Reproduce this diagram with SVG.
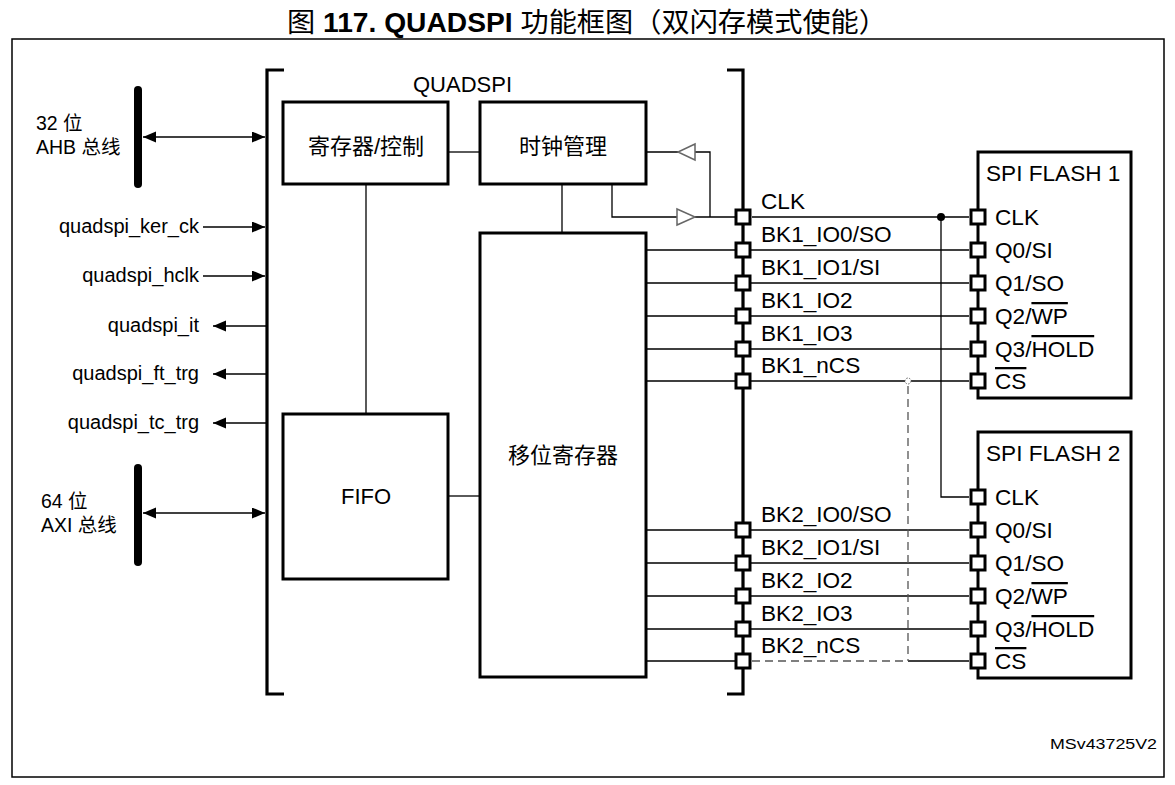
<svg xmlns="http://www.w3.org/2000/svg" width="1175" height="785" viewBox="0 0 1175 785">
<style>
text{font-family:"Liberation Sans","Noto Sans CJK SC",Arial,sans-serif;fill:#000}
.t20{font-size:20px}
.t22{font-size:22px}
.t23{font-size:22.6px}
.box{fill:#fff;stroke:#000;stroke-width:3}
.ln{stroke:#000;stroke-width:1.3;fill:none}
.brk{stroke:#000;stroke-width:3.2;fill:none}
.pin{fill:#fff;stroke:#000;stroke-width:3}
.buf{fill:#fff;stroke:#666;stroke-width:1.5}
.bus{stroke:#000;stroke-width:8;stroke-linecap:round}
.dash{stroke:#555;stroke-width:1.3;stroke-dasharray:8 5;fill:none}
.ov{text-decoration:overline}
</style>
<defs>
<marker id="ah" markerUnits="userSpaceOnUse" markerWidth="14" markerHeight="12" refX="13" refY="5.5" orient="auto-start-reverse">
<path d="M0,0 L13,5.5 L0,11 Z" fill="#000"/>
</marker>
</defs>
<rect x="0" y="0" width="1175" height="785" fill="#fff"/>
<text x="587" y="32" text-anchor="middle" style="font-size:27px" textLength="600" lengthAdjust="spacingAndGlyphs">图 <tspan font-weight="bold">117. QUADSPI</tspan> 功能框图（双闪存模式使能）</text>
<rect x="12" y="39" width="1152" height="738" fill="none" stroke="#000" stroke-width="1.5"/>

<g id="buses">
<line class="bus" x1="138" y1="90" x2="138" y2="184"/>
<text x="36" y="130" style="font-size:19.5px">32 位</text>
<text x="36" y="154" style="font-size:19.5px">AHB 总线</text>
<line class="bus" x1="138" y1="468" x2="138" y2="562"/>
<text x="41" y="508" style="font-size:19.5px">64 位</text>
<text x="41" y="532" style="font-size:19.5px">AXI 总线</text>
</g>

<g id="signals">
<text class="t20" x="199" y="233" text-anchor="end">quadspi_ker_ck</text>
<text class="t20" x="199" y="282" text-anchor="end">quadspi_hclk</text>
<text class="t20" x="199" y="332" text-anchor="end">quadspi_it</text>
<text class="t20" x="199" y="380" text-anchor="end">quadspi_ft_trg</text>
<text class="t20" x="199" y="429" text-anchor="end">quadspi_tc_trg</text>
</g>

<g id="quadspi">
<path class="brk" d="M284,70 H267 V694 H284"/>
<path class="brk" d="M727,70 H743 V694 H727"/>
<text class="t22" x="413" y="92">QUADSPI</text>
</g>

<g id="regctrl">
<rect class="box" x="283" y="102" width="165" height="82"/>
<text class="t22" x="366" y="154" text-anchor="middle">寄存器/控制</text>
</g>
<g id="clkmgmt">
<rect class="box" x="480" y="102" width="166" height="82"/>
<text class="t22" x="563" y="154" text-anchor="middle">时钟管理</text>
</g>
<g id="fifo">
<rect class="box" x="283" y="414" width="165" height="165"/>
<text class="t22" x="366" y="504" text-anchor="middle">FIFO</text>
</g>
<g id="shiftreg">
<rect class="box" x="480" y="233" width="166" height="444"/>
<text class="t22" x="563" y="463" text-anchor="middle">移位寄存器</text>
</g>

<g id="connectors">
<line class="ln" x1="143" y1="137" x2="265" y2="137" marker-start="url(#ah)" marker-end="url(#ah)"/>
<line class="ln" x1="143" y1="513" x2="265" y2="513" marker-start="url(#ah)" marker-end="url(#ah)"/>
<line class="ln" x1="203" y1="227" x2="265" y2="227" marker-end="url(#ah)"/>
<line class="ln" x1="203" y1="276" x2="265" y2="276" marker-end="url(#ah)"/>
<line class="ln" x1="267" y1="326" x2="213" y2="326" marker-end="url(#ah)"/>
<line class="ln" x1="267" y1="374" x2="213" y2="374" marker-end="url(#ah)"/>
<line class="ln" x1="267" y1="423" x2="213" y2="423" marker-end="url(#ah)"/>
<line class="ln" x1="448" y1="152" x2="480" y2="152"/>
<line class="ln" x1="366" y1="184" x2="366" y2="414"/>
<line class="ln" x1="562" y1="184" x2="562" y2="233"/>
<line class="ln" x1="448" y1="496" x2="480" y2="496"/>
<path class="ln" d="M612,184 V217 H677 M695,217 H736"/>
<path class="ln" d="M710,217 V152 H695 M678,152 H646"/>
<path class="buf" d="M677,209 L695,217 L677,225 Z"/>
<path class="buf" d="M695,144 L678,152 L695,160 Z"/>
<path class="ln" d="M646,250 H969 M646,283 H969 M646,316 H969 M646,349 H969 M646,381 H969"/>
<path class="ln" d="M646,530 H969 M646,563 H969 M646,596 H969 M646,629 H969 M646,661 H736 M908,661 H969"/>
<path class="ln" d="M752,217 H969 M941,217 V497 H969"/>
<circle cx="941" cy="217" r="4" fill="#000"/>
<path class="dash" d="M908,386 V661 M752,661 H908"/>
<circle cx="908" cy="381" r="3" fill="#fff" stroke="#666" stroke-width="1" stroke-dasharray="1.5 1.5"/>
</g>

<g id="pins">
<rect class="pin" x="736" y="210" width="14" height="14"/>
<rect class="pin" x="736" y="243" width="14" height="14"/>
<rect class="pin" x="736" y="276" width="14" height="14"/>
<rect class="pin" x="736" y="309" width="14" height="14"/>
<rect class="pin" x="736" y="342" width="14" height="14"/>
<rect class="pin" x="736" y="374" width="14" height="14"/>
<rect class="pin" x="736" y="523" width="14" height="14"/>
<rect class="pin" x="736" y="556" width="14" height="14"/>
<rect class="pin" x="736" y="589" width="14" height="14"/>
<rect class="pin" x="736" y="622" width="14" height="14"/>
<rect class="pin" x="736" y="654" width="14" height="14"/>
<text class="t23" x="761" y="209">CLK</text>
<text class="t23" x="761" y="242">BK1_IO0/SO</text>
<text class="t23" x="761" y="275">BK1_IO1/SI</text>
<text class="t23" x="761" y="308">BK1_IO2</text>
<text class="t23" x="761" y="341">BK1_IO3</text>
<text class="t23" x="761" y="373">BK1_nCS</text>
<text class="t23" x="761" y="522">BK2_IO0/SO</text>
<text class="t23" x="761" y="555">BK2_IO1/SI</text>
<text class="t23" x="761" y="588">BK2_IO2</text>
<text class="t23" x="761" y="621">BK2_IO3</text>
<text class="t23" x="761" y="653">BK2_nCS</text>
</g>

<g id="flash1">
<rect class="box" x="978" y="152" width="153" height="246"/>
<text class="t23" x="986" y="181">SPI FLASH 1</text>
<rect class="pin" x="971" y="210" width="14" height="14"/>
<rect class="pin" x="971" y="243" width="14" height="14"/>
<rect class="pin" x="971" y="276" width="14" height="14"/>
<rect class="pin" x="971" y="309" width="14" height="14"/>
<rect class="pin" x="971" y="342" width="14" height="14"/>
<rect class="pin" x="971" y="374" width="14" height="14"/>
<text class="t23" x="995" y="225">CLK</text>
<text class="t23" x="995" y="258">Q0/SI</text>
<text class="t23" x="995" y="291">Q1/SO</text>
<text class="t23" x="995" y="324">Q2/<tspan class="ov">WP</tspan></text>
<text class="t23" x="995" y="357">Q3/<tspan class="ov">HOLD</tspan></text>
<text class="t23" x="995" y="389"><tspan class="ov">CS</tspan></text>
</g>

<g id="flash2">
<rect class="box" x="978" y="432" width="153" height="246"/>
<text class="t23" x="986" y="461">SPI FLASH 2</text>
<rect class="pin" x="971" y="490" width="14" height="14"/>
<rect class="pin" x="971" y="523" width="14" height="14"/>
<rect class="pin" x="971" y="556" width="14" height="14"/>
<rect class="pin" x="971" y="589" width="14" height="14"/>
<rect class="pin" x="971" y="622" width="14" height="14"/>
<rect class="pin" x="971" y="654" width="14" height="14"/>
<text class="t23" x="995" y="505">CLK</text>
<text class="t23" x="995" y="538">Q0/SI</text>
<text class="t23" x="995" y="571">Q1/SO</text>
<text class="t23" x="995" y="604">Q2/<tspan class="ov">WP</tspan></text>
<text class="t23" x="995" y="637">Q3/<tspan class="ov">HOLD</tspan></text>
<text class="t23" x="995" y="669"><tspan class="ov">CS</tspan></text>
</g>

<text x="1157" y="749" text-anchor="end" style="font-size:15px" textLength="107" lengthAdjust="spacingAndGlyphs">MSv43725V2</text>
</svg>
